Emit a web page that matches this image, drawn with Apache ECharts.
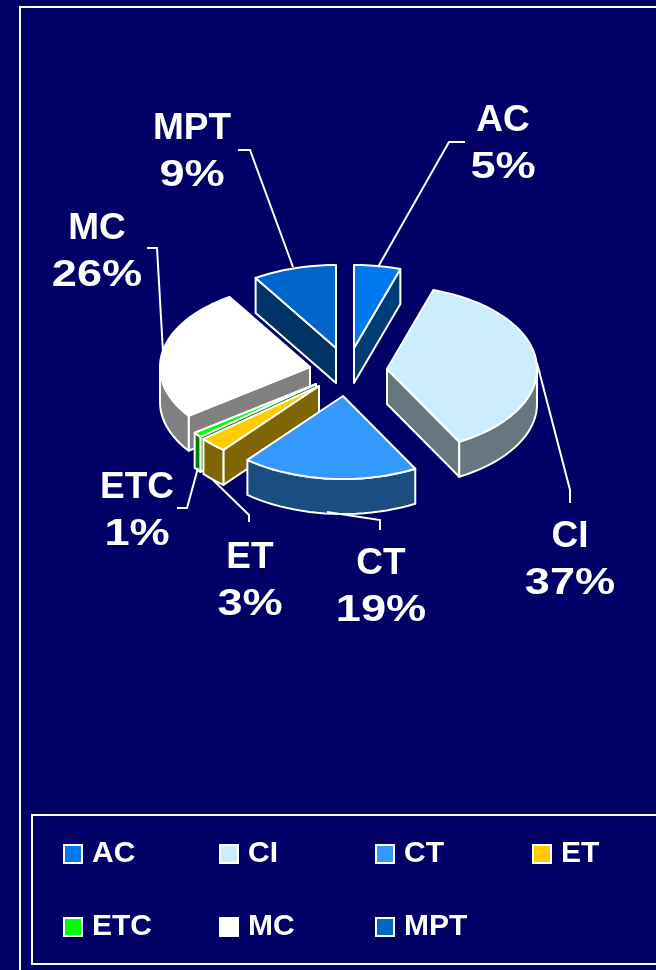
<!DOCTYPE html>
<html>
<head>
<meta charset="utf-8">
<style>html,body{margin:0;padding:0;background:#000066}#c{width:656px;height:970px}</style>
<script src="https://cdn.jsdelivr.net/npm/echarts@6/dist/echarts.min.js"></script>
</head>
<body>
<div id="c"></div>
<script>
var categories = ['AC', 'CI', 'CT', 'ET', 'ETC', 'MC', 'MPT'];
var shares = [5, 37, 19, 3, 1, 26, 9];
var topColors = ['#0078F0', '#CCECFF', '#3399FF', '#FFCC00', '#00FF00', '#FFFFFF', '#0066CC'];
var wallColors = ['#003C78', '#667780', '#1A4D80', '#806600', '#008000', '#808080', '#003366'];
var legendColumns = [['AC', 'ETC'], ['CI', 'MC'], ['CT', 'MPT'], ['ET']];

// layout only
var RX = 150, RY = 83, DEPTH = 35;
var apex = {AC:[354,348], CI:[387,369], CT:[343,396], ET:[319,386], ETC:[316,384], MC:[310,367], MPT:[336,348]};
var labelPos = {AC:[503,121], CI:[570,537], CT:[381,564], ET:[250,558], ETC:[137,488], MC:[97,229], MPT:[192,129]};
var leader = {
  AC:[[378,267],[449,142],[465,142]],
  CI:[[537,363],[570,490],[570,503]],
  CT:[[327,512],[380,520],[380,530]],
  ET:[[213,480],[249,515],[249,522]],
  ETC:[[198,468],[187,508],[177,508]],
  MC:[[163,352],[157,248],[147,248]],
  MPT:[[293,267],[250,150],[238,150]]
};
var drawOrder = ['AC', 'MPT', 'CI', 'MC', 'ETC', 'ET', 'CT'];
var LINE = 46.5, LABEL_FONT = 'bold 37px "Liberation Sans"', NAME_SCALE = 1.0, PCT_SCALE = 1.22;

var total = shares.reduce(function (s, v) { return s + v; }, 0);
var startAngle = {}, run = 0;
categories.forEach(function (c, i) { startAngle[c] = run / total * 360; run += shares[i]; });

function rim(c, deg, dy) {
  var r = deg * Math.PI / 180, A = apex[c];
  return [A[0] + RX * Math.sin(r), A[1] - RY * Math.cos(r) + (dy || 0)];
}
function arc(c, a0, a1, dy) {
  var pts = [], n = Math.max(1, Math.ceil((a1 - a0) / 3));
  for (var i = 0; i <= n; i++) pts.push(rim(c, a0 + (a1 - a0) * i / n, dy));
  return pts;
}
function poly(points, fill) {
  return {type: 'polygon', shape: {points: points}, style: {fill: fill, stroke: '#FFFFFF', lineWidth: 2, lineJoin: 'round'}};
}
function edgeWall(c, deg, midDeg, fill) {
  var A = apex[c], P = rim(c, deg), M = rim(c, midDeg);
  var nx = -(P[1] - A[1]), ny = P[0] - A[0];
  if (nx * (M[0] - A[0]) + ny * (M[1] - A[1]) > 0) { ny = -ny; }
  if (ny <= 0.001) return null;
  return poly([A, P, [P[0], P[1] + DEPTH], [A[0], A[1] + DEPTH]], fill);
}
function renderSlice(name, idx) {
  return function (params, api) {
    var value = api.value(0);
    var a0 = startAngle[name], a1 = a0 + value / total * 360, mid = (a0 + a1) / 2;
    var kids = [];
    [a0, a1].forEach(function (d) {
      var w = edgeWall(name, d, mid, wallColors[idx]);
      if (w) kids.push(w);
    });
    var f0 = Math.max(a0, 90), f1 = Math.min(a1, 270);
    if (f1 > f0) {
      kids.push(poly(arc(name, f0, f1, 0).concat(arc(name, f0, f1, DEPTH).reverse()), wallColors[idx]));
    }
    kids.push(poly([apex[name]].concat(arc(name, a0, a1, 0)), topColors[idx]));
    kids.push({type: 'polyline', shape: {points: leader[name]}, style: {fill: null, stroke: '#FFFFFF', lineWidth: 2}});
    var p = labelPos[name];
    [name, value + '%'].forEach(function (t, i) {
      kids.push({
        type: 'text', x: p[0], y: p[1] + i * LINE, scaleX: i ? PCT_SCALE : NAME_SCALE,
        style: {text: t, font: LABEL_FONT, fill: '#FFFFFF', align: 'center', verticalAlign: 'middle'}
      });
    });
    return {type: 'group', children: kids};
  };
}

var series = categories.map(function (name, i) {
  return {
    type: 'custom', name: name, coordinateSystem: 'none', silent: true,
    z: 5 + drawOrder.indexOf(name),
    itemStyle: {color: topColors[i]},
    data: [[shares[i]]],
    renderItem: renderSlice(name, i)
  };
});

var legendLeft = [63, 219, 375, 532];
var legends = legendColumns.map(function (col, i) {
  return {
    data: col, orient: 'vertical', left: legendLeft[i], top: 839, padding: 0,
    icon: 'rect', itemWidth: 18, itemHeight: 18, itemGap: 43, selectedMode: false,
    itemStyle: {borderColor: '#FFFFFF', borderWidth: 2},
    textStyle: {color: '#FFFFFF', fontFamily: 'Liberation Sans', fontWeight: 'bold', fontSize: 30, padding: [0, 0, 0, 5]}
  };
});

var chart = echarts.init(document.getElementById('c'), null, {renderer: 'canvas'});
chart.setOption({
  backgroundColor: '#000066',
  animation: false,
  tooltip: {show: false},
  legend: legends,
  graphic: [
    {type: 'rect', z: 0, silent: true, shape: {x: 20, y: 7, width: 800, height: 1100}, style: {fill: null, stroke: '#FFFFFF', lineWidth: 2}},
    {type: 'rect', z: 0, silent: true, shape: {x: 32, y: 815, width: 800, height: 149}, style: {fill: null, stroke: '#FFFFFF', lineWidth: 2}}
  ],
  series: series
});
</script>
</body>
</html>
